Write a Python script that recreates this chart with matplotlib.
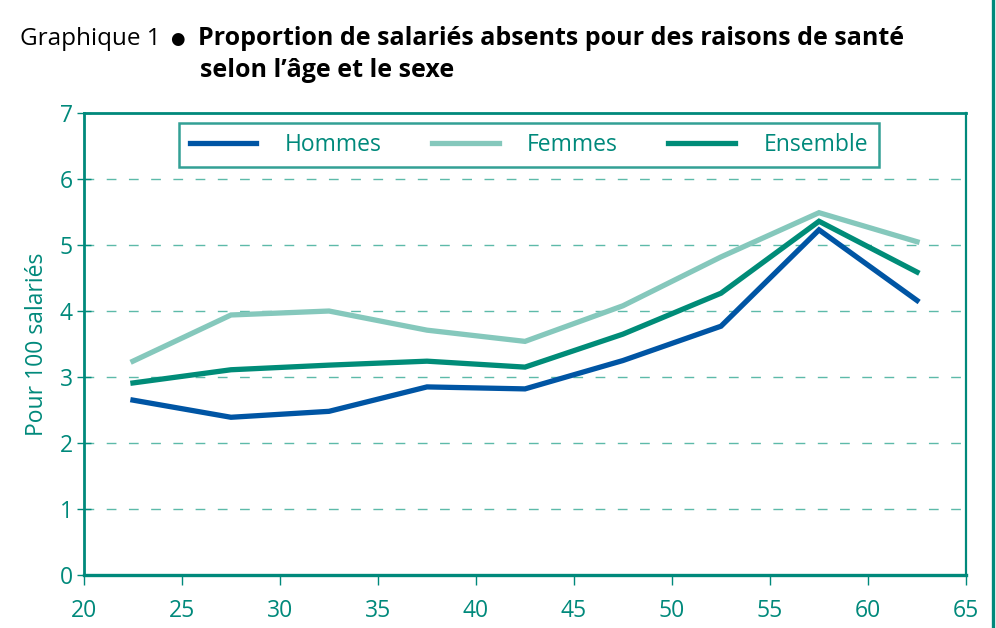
import matplotlib
matplotlib.use("Agg")
import matplotlib.pyplot as plt
from matplotlib.lines import Line2D

plt.rcParams['font.family'] = ['Open Sans', 'DejaVu Sans']

# tranches d'âge (centre de la tranche)
ages = [22.5, 27.5, 32.5, 37.5, 42.5, 47.5, 52.5, 57.5, 62.5]
hommes = [2.65, 2.39, 2.48, 2.85, 2.82, 3.25, 3.77, 5.23, 4.16]
femmes = [3.24, 3.94, 4.00, 3.71, 3.54, 4.08, 4.82, 5.49, 5.05]
ensemble = [2.91, 3.11, 3.18, 3.24, 3.15, 3.65, 4.27, 5.36, 4.59]
xticks = [20, 25, 30, 35, 40, 45, 50, 55, 60, 65]
yticks = [0, 1, 2, 3, 4, 5, 6, 7]

teal = "#00897b"
c_h = "#0055a4"
c_f = "#85c8bc"
c_e = "#008c78"

fig = plt.figure(figsize=(9.96, 6.28), dpi=100)
ax = fig.add_axes([0.0843, 0.0844, 0.8856, 0.7356])

ax.plot(ages, hommes, color=c_h, lw=3.8, label="Hommes", solid_joinstyle="miter")
ax.plot(ages, femmes, color=c_f, lw=3.8, label="Femmes", solid_joinstyle="miter")
ax.plot(ages, ensemble, color=c_e, lw=3.8, label="Ensemble", solid_joinstyle="miter")

ax.set_xlim(20, 65)
ax.set_ylim(0, 7)
ax.set_xticks(xticks)
ax.set_yticks(yticks)

for y in yticks[1:-1]:
    ax.axhline(y, color="#5dbaa9", lw=1.0, dashes=(7, 9), zorder=0)

for s in ax.spines.values():
    s.set_color(teal)
ax.spines['left'].set_linewidth(2.0)
ax.spines['bottom'].set_linewidth(2.4)
ax.spines['top'].set_linewidth(2.0)
ax.spines['right'].set_linewidth(1.6)

ax.tick_params(axis='x', direction='out', length=7, width=1.0, color=teal,
               labelcolor=teal, labelsize=16.5, pad=10)
ax.tick_params(axis='y', direction='inout', length=10, width=1.0, color=teal,
               labelcolor=teal, labelsize=16.5, pad=3)
ax.set_ylabel("Pour 100 salariés", color=teal, fontsize=16.5, labelpad=8)

leg = ax.legend(loc="center", bbox_to_anchor=(0.5045, 0.931), ncol=3,
                frameon=True, fancybox=False, fontsize=16.5, handlelength=2.9,
                handletextpad=1.25, columnspacing=2.2, borderpad=0.45)
leg.get_frame().set_edgecolor(teal)
leg.get_frame().set_linewidth(1.8)
for t in leg.get_texts():
    t.set_color(teal)

fig.text(20 / 996, 1 - 45 / 628, "Graphique 1", fontsize=17.5, color="black", va="baseline")
fig.text(170 / 996, 1 - 44 / 628, "\u25cf", fontsize=12, color="black", va="baseline")
fig.text(198 / 996, 1 - 45 / 628, "Proportion de salariés absents pour des raisons de santé",
         fontsize=18, fontweight="bold", color="black", va="baseline")
fig.text(200 / 996, 1 - 77 / 628, "selon l\u2019âge et le sexe",
         fontsize=18, fontweight="bold", color="black", va="baseline")

fig.add_artist(Line2D([993 / 996, 993 / 996], [0, 1], transform=fig.transFigure,
                      color=teal, lw=2.4))

fig.savefig("out.png", dpi=100)
